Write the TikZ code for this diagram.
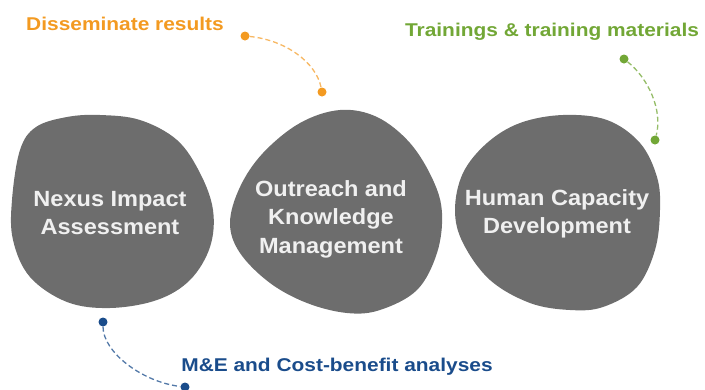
\documentclass[tikz,border=0pt]{standalone}
\usepackage{fontspec}
\newfontfamily\labfont[FakeStretch=1.13]{Liberation Sans}
\newfontfamily\blobfont[FakeStretch=1.07]{Liberation Sans}
\definecolor{blobgray}{HTML}{6D6D6D}
\definecolor{orng}{HTML}{F39A21}
\definecolor{grn}{HTML}{72A736}
\definecolor{blu}{HTML}{1A4C8B}
\begin{document}
\begin{tikzpicture}[x=1pt,y=-1pt,
  blob/.style={fill=blobgray,draw=none},
  blobtext/.style={text=white!94!black,align=center,font=\blobfont\bfseries\fontsize{22}{28.5}\selectfont},
  lab/.style={font=\labfont\bfseries\fontsize{18.5}{22}\selectfont,inner sep=0pt},
  dotn/.style={circle,fill,inner sep=0pt,minimum size=9pt},
  link/.style={dashed,dash pattern=on 5pt off 3pt,line width=1.3pt}]
\useasboundingbox (0,0) rectangle (705,389);
% blobs
\fill[blob] plot[smooth cycle,tension=0.6] coordinates {
 (100,115) (140,120) (177,140) (200,173) (213,210) (210,247) (190,280)
 (157,300) (110,308) (67,302) (30,277) (13,240) (12,200) (20,150) (36,127) (67,117)};
\fill[blob] plot[smooth cycle,tension=0.6] coordinates {
 (340,110) (377,117) (410,143) (433,180) (442,213) (437,253) (417,290)
 (380,310) (347,313) (307,303) (270,283) (240,253) (230,223) (240,187) (263,153) (300,123)};
\fill[blob] plot[smooth cycle,tension=0.6] coordinates {
 (563,115) (607,120) (640,143) (657,177) (660,210) (655,250) (637,287)
 (603,307) (570,310) (530,303) (490,280) (463,243) (455,210) (463,173) (487,143) (520,123)};
% blob texts
\node[blobtext] (nia) at (110,213) {Nexus Impact\\Assessment};
\node[blobtext] (okm) at (331,219) {Outreach and\\Knowledge\\Management};
\node[blobtext] (hcd) at (557,214) {Human Capacity\\Development};
% labels
\node[lab,text=orng] (dis) at (125,24) {Disseminate results};
\node[lab,text=grn] (trn) at (552,32) {Trainings \& training materials};
\node[lab,text=blu] (mne) at (337,367) {M\&E and Cost-benefit analyses};
% dots
\node[dotn,orng] (o1) at (245,36) {};
\node[dotn,orng] (o2) at (322,92) {};
\node[dotn,grn] (g1) at (624,59) {};
\node[dotn,grn] (g2) at (655,140) {};
\node[dotn,blu] (b1) at (103,322) {};
\node[dotn,blu] (b2) at (185,387) {};
% connectors
\draw[link,orng!70] (o1) .. controls (285,40) and (316,62) .. (o2);
\draw[link,grn!75] (g1) .. controls (648,78) and (663,110) .. (g2);
\draw[link,blu!75] (b1) .. controls (103,352) and (142,382) .. (b2);
\end{tikzpicture}
\end{document}
